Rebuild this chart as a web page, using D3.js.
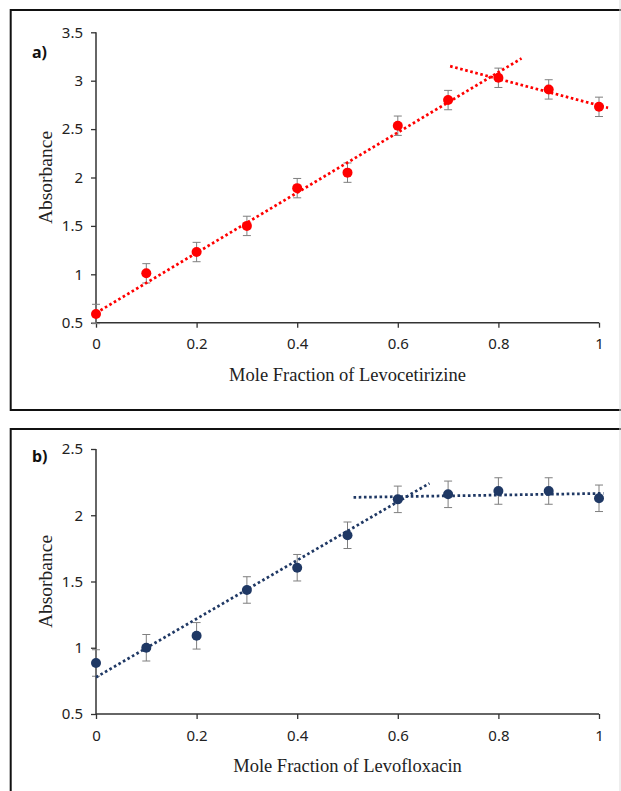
<!DOCTYPE html>
<html>
<head>
<meta charset="utf-8">
<script src="https://cdn.jsdelivr.net/npm/d3@7"></script>
<style>
  body { margin: 0; background: #fff; }
  svg { display: block; }
</style>
</head>
<body>
<div class="container"></div>
<script>
// data
const moleFraction = [0, 0.1, 0.2, 0.3, 0.4, 0.5, 0.6, 0.7, 0.8, 0.9, 1];
const absLevocetirizine = [0.59, 1.01, 1.23, 1.50, 1.89, 2.05, 2.535, 2.80, 3.03, 2.91, 2.73];
const absLevofloxacin = [0.885, 1.00, 1.09, 1.436, 1.604, 1.849, 2.12, 2.158, 2.183, 2.183, 2.128];
const errLevocetirizine = [0.1, 0.1, 0.1, 0.1, 0.1, 0.1, 0.1, 0.1, 0.1, 0.1, 0.1];
const errLevofloxacin = [0.1, 0.1, 0.1, 0.1, 0.1, 0.1, 0.1, 0.1, 0.1, 0.1, 0.1];
// trend lines: [x start, y start, x end, y end]
const trendLevocetirizine = [[0, 0.6, 0.846, 3.23], [0.704, 3.15, 1.018, 2.72]];
const trendLevofloxacin = [[0, 0.777, 0.663, 2.241], [0.512, 2.135, 1.009, 2.165]];
const xTicks = [0, 0.2, 0.4, 0.6, 0.8, 1];
const yTicksA = [0.5, 1, 1.5, 2, 2.5, 3, 3.5];
const yTicksB = [0.5, 1, 1.5, 2, 2.5];

const width = 621;
const height = 791;

const svg = d3.select('.container')
  .append('svg')
  .attr('width', width)
  .attr('height', height);

const x = d3.scaleLinear().domain([0, 1]).range([96, 599]);

const panels = [
  {
    label: 'a)', title: 'Mole Fraction of Levocetirizine',
    top: 10, bottom: 410, y0: 322.7, y1: 32.3, domain: [0.5, 3.5],
    ticks: yTicksA, values: absLevocetirizine, errors: errLevocetirizine,
    trends: trendLevocetirizine, color: '#ff0000', labelY: 58
  },
  {
    label: 'b)', title: 'Mole Fraction of Levofloxacin',
    top: 429, bottom: 800, y0: 714, y1: 449, domain: [0.5, 2.5],
    ticks: yTicksB, values: absLevofloxacin, errors: errLevofloxacin,
    trends: trendLevofloxacin, color: '#1f3864', labelY: 462
  }
];

panels.forEach((p) => {
  const y = d3.scaleLinear().domain(p.domain).range([p.y0, p.y1]);
  const g = svg.append('g');

  // frame
  g.append('rect')
    .attr('x', 10.7)
    .attr('y', p.top)
    .attr('width', 625)
    .attr('height', p.bottom - p.top)
    .attr('fill', 'none')
    .attr('stroke', '#111')
    .attr('stroke-width', 2);

  const yAxis = d3.axisLeft(y).tickValues(p.ticks).tickSize(5).tickPadding(8)
    .tickFormat(d3.format('~g'));
  const xAxis = d3.axisBottom(x).tickValues(xTicks).tickSize(5).tickPadding(11)
    .tickFormat(d3.format('~g'));

  const ya = g.append('g')
    .attr('transform', `translate(${x(0)},0)`)
    .call(yAxis);
  const xa = g.append('g')
    .attr('transform', `translate(0,${p.y0})`)
    .call(xAxis);

  [ya, xa].forEach((a) => {
    a.select('.domain').attr('stroke', '#333').attr('stroke-width', 1.5);
    a.selectAll('.tick line').attr('stroke', '#333').attr('stroke-width', 1.3);
    a.selectAll('.tick text')
      .attr('fill', '#222')
      .style('font-family', '"Noto Sans", sans-serif')
      .style('font-size', '15px');
  });
  ya.select('.domain').attr('d', `M0,${p.y0}V${p.y1}`);
  xa.select('.domain').attr('d', `M${x(0)},0H${x(1)}`);

  // axis titles
  g.append('text')
    .attr('x', (x(0) + x(1)) / 2)
    .attr('y', p.y0 + 58)
    .attr('text-anchor', 'middle')
    .style('font-family', '"Liberation Serif", serif')
    .style('font-size', '18.5px')
    .attr('fill', '#222')
    .text(p.title);

  g.append('text')
    .attr('transform', `translate(52,${(p.y0 + p.y1) / 2}) rotate(-90)`)
    .attr('text-anchor', 'middle')
    .style('font-family', '"Liberation Serif", serif')
    .style('font-size', '19.5px')
    .attr('fill', '#222')
    .text('Absorbance');

  g.append('text')
    .attr('x', 32)
    .attr('y', p.labelY)
    .style('font-family', '"Noto Sans", sans-serif')
    .style('font-weight', 'bold')
    .style('font-size', '16px')
    .attr('fill', '#111')
    .text(p.label);

  const pts = moleFraction.map((m, i) => ({ m, v: p.values[i], e: p.errors[i] }));

  // error bars
  const eb = g.append('g').attr('stroke', '#7f7f7f').attr('stroke-width', 1);
  eb.selectAll('line.v').data(pts).enter().append('line')
    .attr('x1', (d) => x(d.m)).attr('x2', (d) => x(d.m))
    .attr('y1', (d) => y(d.v - d.e)).attr('y2', (d) => y(d.v + d.e));
  eb.selectAll('line.lo').data(pts).enter().append('line')
    .attr('x1', (d) => x(d.m) - 4).attr('x2', (d) => x(d.m) + 4)
    .attr('y1', (d) => y(d.v - d.e)).attr('y2', (d) => y(d.v - d.e));
  eb.selectAll('line.hi').data(pts).enter().append('line')
    .attr('x1', (d) => x(d.m) - 4).attr('x2', (d) => x(d.m) + 4)
    .attr('y1', (d) => y(d.v + d.e)).attr('y2', (d) => y(d.v + d.e));

  // markers
  g.append('g').selectAll('circle').data(pts).enter().append('circle')
    .attr('cx', (d) => x(d.m))
    .attr('cy', (d) => y(d.v))
    .attr('r', 5)
    .attr('fill', p.color);

  // dotted trend lines
  g.append('g').selectAll('line').data(p.trends).enter().append('line')
    .attr('x1', (d) => x(d[0])).attr('y1', (d) => y(d[1]))
    .attr('x2', (d) => x(d[2])).attr('y2', (d) => y(d[3]))
    .attr('stroke', p.color)
    .attr('stroke-width', 2.75)
    .attr('stroke-dasharray', '2.6 2.6');
});

// light right edge of the page
svg.append('line')
  .attr('x1', 620).attr('x2', 620).attr('y1', 0).attr('y2', height)
  .attr('stroke', '#ddd').attr('stroke-width', 1);
</script>
</body>
</html>
